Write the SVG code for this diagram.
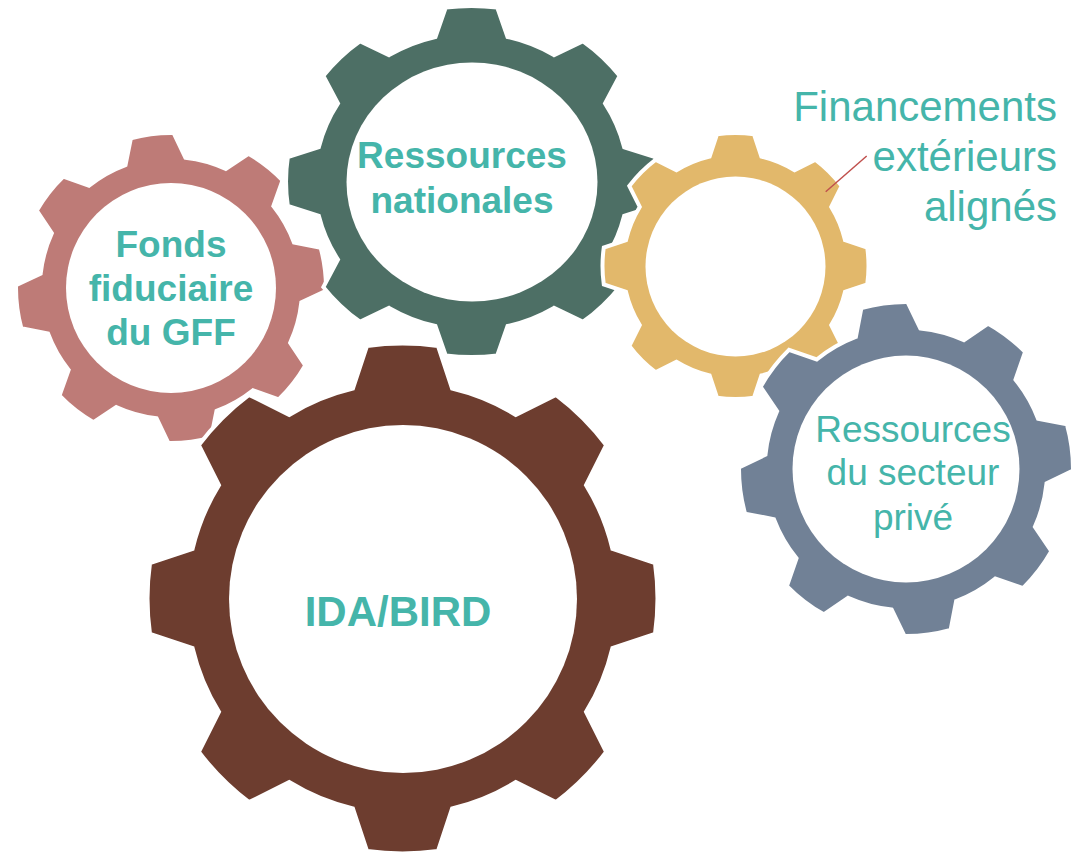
<svg xmlns="http://www.w3.org/2000/svg" xmlns:xlink="http://www.w3.org/1999/xlink" width="1077" height="856" viewBox="0 0 1077 856">
<style>
.gear{stroke:#FFFFFF;stroke-linejoin:miter}
.hole{fill:#FFFFFF}
.lbl{fill:#45B5AA;font-family:"Liberation Sans",Arial,sans-serif;text-anchor:middle}
.b{font-weight:bold}
</style>
<defs>
<path id="g8" d="M82.33,-19.46 L99.03,-13.92 A100,100 0 0 1 99.03,13.92 L82.33,19.46 A84.6,84.6 0 0 1 71.98,44.45 L79.86,60.18 A100,100 0 0 1 60.18,79.86 L44.45,71.98 A84.6,84.6 0 0 1 19.46,82.33 L13.92,99.03 A100,100 0 0 1 -13.92,99.03 L-19.46,82.33 A84.6,84.6 0 0 1 -44.45,71.98 L-60.18,79.86 A100,100 0 0 1 -79.86,60.18 L-71.98,44.45 A84.6,84.6 0 0 1 -82.33,19.46 L-99.03,13.92 A100,100 0 0 1 -99.03,-13.92 L-82.33,-19.46 A84.6,84.6 0 0 1 -71.98,-44.45 L-79.86,-60.18 A100,100 0 0 1 -60.18,-79.86 L-44.45,-71.98 A84.6,84.6 0 0 1 -19.46,-82.33 L-13.92,-99.03 A100,100 0 0 1 13.92,-99.03 L19.46,-82.33 A84.6,84.6 0 0 1 44.45,-71.98 L60.18,-79.86 A100,100 0 0 1 79.86,-60.18 L71.98,-44.45 A84.6,84.6 0 0 1 82.33,-19.46 Z"/>
</defs>
<rect width="1077" height="856" fill="#FFFFFF"/>
<g id="gear-fonds">
<use xlink:href="#g8" href="#g8" class="gear" fill="#BE7B77" stroke-width="2.6" transform="translate(171,288) rotate(-7) scale(1.55)"/>
<circle class="hole" cx="171" cy="288" r="105"/>
<text class="lbl b" font-size="37"><tspan x="171" y="257">Fonds</tspan><tspan x="171" y="301">fiduciaire</tspan><tspan x="171" y="344.5">du GFF</tspan></text>
</g>
<g id="gear-nationales">
<use xlink:href="#g8" href="#g8" class="gear" fill="#4D6F65" stroke-width="2.2" transform="translate(471.5,181.5) scale(1.855,1.755)"/>
<ellipse class="hole" cx="472" cy="182" rx="125.5" ry="119.5"/>
<text class="lbl b" font-size="37"><tspan x="462" y="168.3">Ressources</tspan><tspan x="462" y="213.3">nationales</tspan></text>
</g>
<g id="gear-exterieurs">
<use xlink:href="#g8" href="#g8" class="gear" fill="#E2B86B" stroke-width="3" transform="translate(735.5,266) scale(1.33)"/>
<circle class="hole" cx="735.5" cy="266.5" r="90"/>
</g>
<g id="gear-prive">
<use xlink:href="#g8" href="#g8" class="gear" fill="#718196" stroke-width="2.4" transform="translate(906,469) rotate(-7.5) scale(1.67)"/>
<circle class="hole" cx="906" cy="469" r="113.5"/>
<text class="lbl" font-size="37"><tspan x="913" y="441.7">Ressources</tspan><tspan x="913" y="485">du secteur</tspan><tspan x="913" y="530">privé</tspan></text>
</g>
<g id="gear-ida">
<use xlink:href="#g8" href="#g8" class="gear" fill="#6D3D2F" stroke-width="1.6" transform="translate(402.5,598.5) scale(2.55)"/>
<circle class="hole" cx="403" cy="599" r="174"/>
<text class="lbl b" font-size="42" x="398" y="625.7">IDA/BIRD</text>
</g>
<g id="label-financements">
<text class="lbl" font-size="42" style="text-anchor:end"><tspan x="1057" y="120.7">Financements</tspan><tspan x="1057" y="170.7">extérieurs</tspan><tspan x="1057" y="221">alignés</tspan></text>
</g>
<g id="connectors">
<line x1="825.7" y1="191.7" x2="866.7" y2="156" stroke="#C0504D" stroke-width="1.5"/>
</g>
</svg>
